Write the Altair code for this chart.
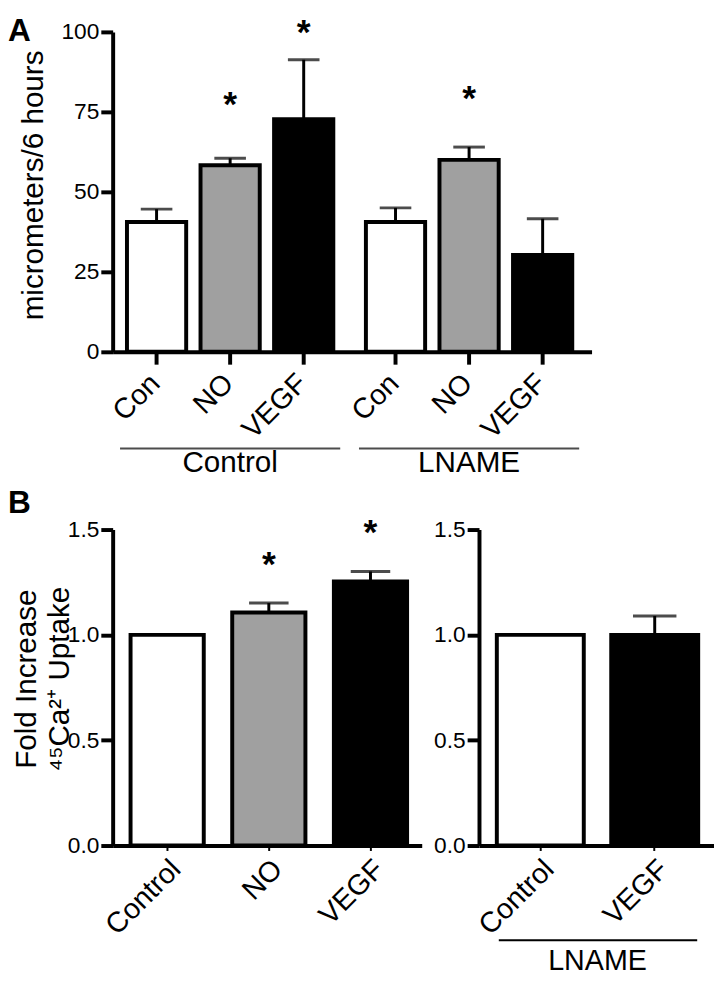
import altair as alt
import pandas as pd

# ---------------- Panel A data ----------------
a_group_names = ["Control", "LNAME"]
a_treat_names = ["Con", "NO", "VEGF"]
a_groups = ["Control", "Control", "Control", "LNAME", "LNAME", "LNAME"]
a_treats = ["Con", "NO", "VEGF", "Con", "NO", "VEGF"]
a_means = [40.6, 58.3, 72.7, 40.6, 60.0, 30.3]
a_errs = [4.0, 2.2, 18.6, 4.4, 4.0, 11.3]
a_star_groups = ["Control", "Control", "LNAME"]
a_star_treats = ["NO", "VEGF", "NO"]
a_star_levels = [78.7, 101.3, 80.6]
a_ticks = [0, 25, 50, 75, 100]

# ---------------- Panel B data ----------------
b_treats = ["Control", "NO", "VEGF"]
b_means = [1.0, 1.106, 1.254]
b_errs = [0.0, 0.045, 0.047]
b_star_treats = ["NO", "VEGF"]
b_star_levels = [1.355, 1.505]
c_treats = ["Control", "VEGF"]
c_means = [1.0, 1.0]
c_errs = [0.0, 0.09]
c_group = ["LNAME"]
b_ticks = [0, 0.5, 1.0, 1.5]

color_domain = ["Con", "Control", "NO", "VEGF"]
color_range = ["white", "white", "#a0a0a0", "black"]
FONT = "Liberation Sans"
STAR_DY = 16

# ================= Panel A =================
W_A, H_A = 485, 324
dfA = pd.DataFrame({"group": a_groups, "treat": a_treats, "mean": a_means, "err": a_errs})
dfA["top"] = dfA["mean"] + dfA["err"]
dfA_star = pd.DataFrame({"group": a_star_groups, "treat": a_star_treats, "level": a_star_levels})
dfA_grp = pd.DataFrame({"group": a_group_names})

xA = alt.X("group:N", sort=a_group_names, title=None,
           scale=alt.Scale(paddingInner=0.0764, paddingOuter=0.0403, align=0.37),
           axis=alt.Axis(labels=False, ticks=False, domainWidth=4, domainColor="black"))
oA = alt.XOffset("treat:N", sort=a_treat_names,
                 scale=alt.Scale(paddingInner=0.195, paddingOuter=0.0975))
yA_scale = alt.Scale(domain=[0, 100], nice=False)
yA_axis = alt.Axis(values=a_ticks, tickSize=12, tickWidth=4, domainWidth=4,
                   labelFontSize=23, labelPadding=2, labelFlush=False, labelOverlap=False,
                   title="micrometers/6 hours", titleFontSize=30, titleFontWeight="normal",
                   titleX=-71, titleY=155, titleAlign="center", titleBaseline="alphabetic",
                   titleAngle=270)
colorA = alt.Color("treat:N", scale=alt.Scale(domain=color_domain, range=color_range), legend=None)

baseA = alt.Chart(dfA)
barsA = baseA.mark_bar(stroke="black", strokeWidth=4).encode(
    x=xA, xOffset=oA, y=alt.Y("mean:Q", scale=yA_scale, axis=yA_axis), color=colorA)
errA = baseA.mark_rule(color="black", strokeWidth=3).encode(
    x=xA, xOffset=oA, y=alt.Y("mean:Q", scale=yA_scale, axis=yA_axis), y2="top:Q")
capA = baseA.mark_tick(color="black", orient="horizontal", size=32, thickness=3).encode(
    x=xA, xOffset=oA, y=alt.Y("top:Q", scale=yA_scale, axis=yA_axis))
xtickA = baseA.mark_rule(color="black", strokeWidth=4).encode(
    x=xA, xOffset=oA, y=alt.value(H_A), y2=alt.value(H_A + 13))
xlabA = baseA.mark_text(angle=315, align="right", baseline="middle", fontSize=29, dx=-2).encode(
    x=xA, xOffset=oA, y=alt.value(H_A + 26), text="treat:N")
starA = alt.Chart(dfA_star).mark_text(text="*", fontSize=36, fontWeight="bold",
                                       baseline="alphabetic", dy=STAR_DY).encode(
    x=xA, xOffset=oA, y=alt.Y("level:Q", scale=yA_scale, axis=yA_axis))
grpLineA = alt.Chart(dfA_grp).mark_tick(color="black", orient="horizontal", size=223, thickness=2).encode(
    x=xA, y=alt.value(H_A + 98))
grpTextA = alt.Chart(dfA_grp).mark_text(fontSize=30, baseline="middle").encode(
    x=xA, y=alt.value(H_A + 113), text="group:N")
labelA = alt.Chart(pd.DataFrame({"label": ["A"]})).mark_text(
    fontSize=32, fontWeight="bold", align="left", baseline="alphabetic").encode(
    x=alt.value(-106), y=alt.value(9), text="label:N")

panelA = alt.layer(barsA, errA, capA, xtickA, xlabA, starA, grpLineA, grpTextA, labelA).properties(
    width=W_A, height=H_A)

# ================= Panel B (left) =================
W_B, H_B = 313, 320
dfB = pd.DataFrame({"treat": b_treats, "mean": b_means, "err": b_errs})
dfB["top"] = dfB["mean"] + dfB["err"]
dfB_star = pd.DataFrame({"treat": b_star_treats, "level": b_star_levels})

def x_axis_b():
    return alt.Axis(title=None, labelAngle=315, labelAlign="right", labelBaseline="middle",
                    labelFontSize=29, labelOffset=9, labelPadding=14, labelOverlap=False,
                    labelBound=False, tickSize=5, tickWidth=2, domainWidth=4)

def y_axis_b(title):
    kw = dict(values=b_ticks, format=".1f", tickSize=12, tickWidth=4, domainWidth=4,
              labelFontSize=23, labelPadding=2, labelFlush=False, labelOverlap=False)
    if title:
        kw.update(title=title, titleFontSize=30, titleFontWeight="normal", titleX=-78,
                  titleY=151, titleAlign="center", titleBaseline="alphabetic",
                  titleAngle=270, titleLineHeight=33)
    else:
        kw.update(title=None)
    return alt.Axis(**kw)

yB_scale = alt.Scale(domain=[0, 1.5], nice=False)
xB = alt.X("treat:N", sort=b_treats, scale=alt.Scale(paddingInner=0.28, paddingOuter=0.16, align=0.55),
           axis=x_axis_b())
yB_axis = y_axis_b(["Fold Increase", "\u2074\u2075Ca\u00b2\u207a Uptake"])
colorB = alt.Color("treat:N", scale=alt.Scale(domain=color_domain, range=color_range), legend=None)

baseB = alt.Chart(dfB)
barsB = baseB.mark_bar(stroke="black", strokeWidth=4).encode(
    x=xB, y=alt.Y("mean:Q", scale=yB_scale, axis=yB_axis), color=colorB)
errB = baseB.transform_filter("datum.err > 0").mark_rule(color="black", strokeWidth=3).encode(
    x=xB, y=alt.Y("mean:Q", scale=yB_scale, axis=yB_axis), y2="top:Q")
capB = baseB.transform_filter("datum.err > 0").mark_tick(color="black", orient="horizontal", size=40, thickness=3).encode(
    x=xB, y=alt.Y("top:Q", scale=yB_scale, axis=yB_axis))
starB = alt.Chart(dfB_star).mark_text(text="*", fontSize=36, fontWeight="bold",
                                       baseline="alphabetic", dy=STAR_DY).encode(
    x=xB, y=alt.Y("level:Q", scale=yB_scale, axis=yB_axis))
labelB = alt.Chart(pd.DataFrame({"label": ["B"]})).mark_text(
    fontSize=32, fontWeight="bold", align="left", baseline="alphabetic").encode(
    x=alt.value(-106), y=alt.value(-17), text="label:N")

panelB1 = alt.layer(barsB, errB, capB, starB, labelB).properties(width=W_B, height=H_B)

# ================= Panel B (right, LNAME) =================
W_C = 238
dfC = pd.DataFrame({"treat": c_treats, "mean": c_means, "err": c_errs})
dfC["top"] = dfC["mean"] + dfC["err"]
c_pad_inner, c_pad_outer, c_align = 0.24, 0.147, 0.53
c_step = W_C / (len(c_treats) - c_pad_inner + 2 * c_pad_outer)
c_left = c_step * 2 * c_pad_outer * c_align
c_right = c_left + c_step * (len(c_treats) - c_pad_inner)

xC = alt.X("treat:N", sort=c_treats,
           scale=alt.Scale(paddingInner=c_pad_inner, paddingOuter=c_pad_outer, align=c_align),
           axis=x_axis_b())
yC_axis = y_axis_b(None)

baseC = alt.Chart(dfC)
barsC = baseC.mark_bar(stroke="black", strokeWidth=4).encode(
    x=xC, y=alt.Y("mean:Q", scale=yB_scale, axis=yC_axis), color=colorB)
errC = baseC.transform_filter("datum.err > 0").mark_rule(color="black", strokeWidth=3).encode(
    x=xC, y=alt.Y("mean:Q", scale=yB_scale, axis=yC_axis), y2="top:Q")
capC = baseC.transform_filter("datum.err > 0").mark_tick(color="black", orient="horizontal", size=44, thickness=3).encode(
    x=xC, y=alt.Y("top:Q", scale=yB_scale, axis=yC_axis))
dfC_grp = pd.DataFrame({"group": c_group})
grpLineC = alt.Chart(dfC_grp).mark_rule(color="black", strokeWidth=2).encode(
    x=alt.value(c_left + 2), x2=alt.value(c_right - 1), y=alt.value(H_B + 96))
grpTextC = alt.Chart(dfC_grp).mark_text(fontSize=29, baseline="middle").encode(
    x=alt.value((c_left + c_right) / 2), y=alt.value(H_B + 117), text="group:N")

panelB2 = alt.layer(barsC, errC, capC, grpLineC, grpTextC).properties(width=W_C, height=H_B)

chart = alt.vconcat(
    panelA,
    alt.hconcat(panelB1, panelB2, spacing=12),
    spacing=9,
).properties(padding=0).configure(font=FONT).configure_view(stroke=None).configure_axis(
    grid=False, domainColor="black", tickColor="black", labelColor="black", titleColor="black",
    labelFont=FONT, titleFont=FONT).configure_text(font=FONT, color="black")

chart.save("out.html", embed_options={"renderer": "svg", "actions": False})
